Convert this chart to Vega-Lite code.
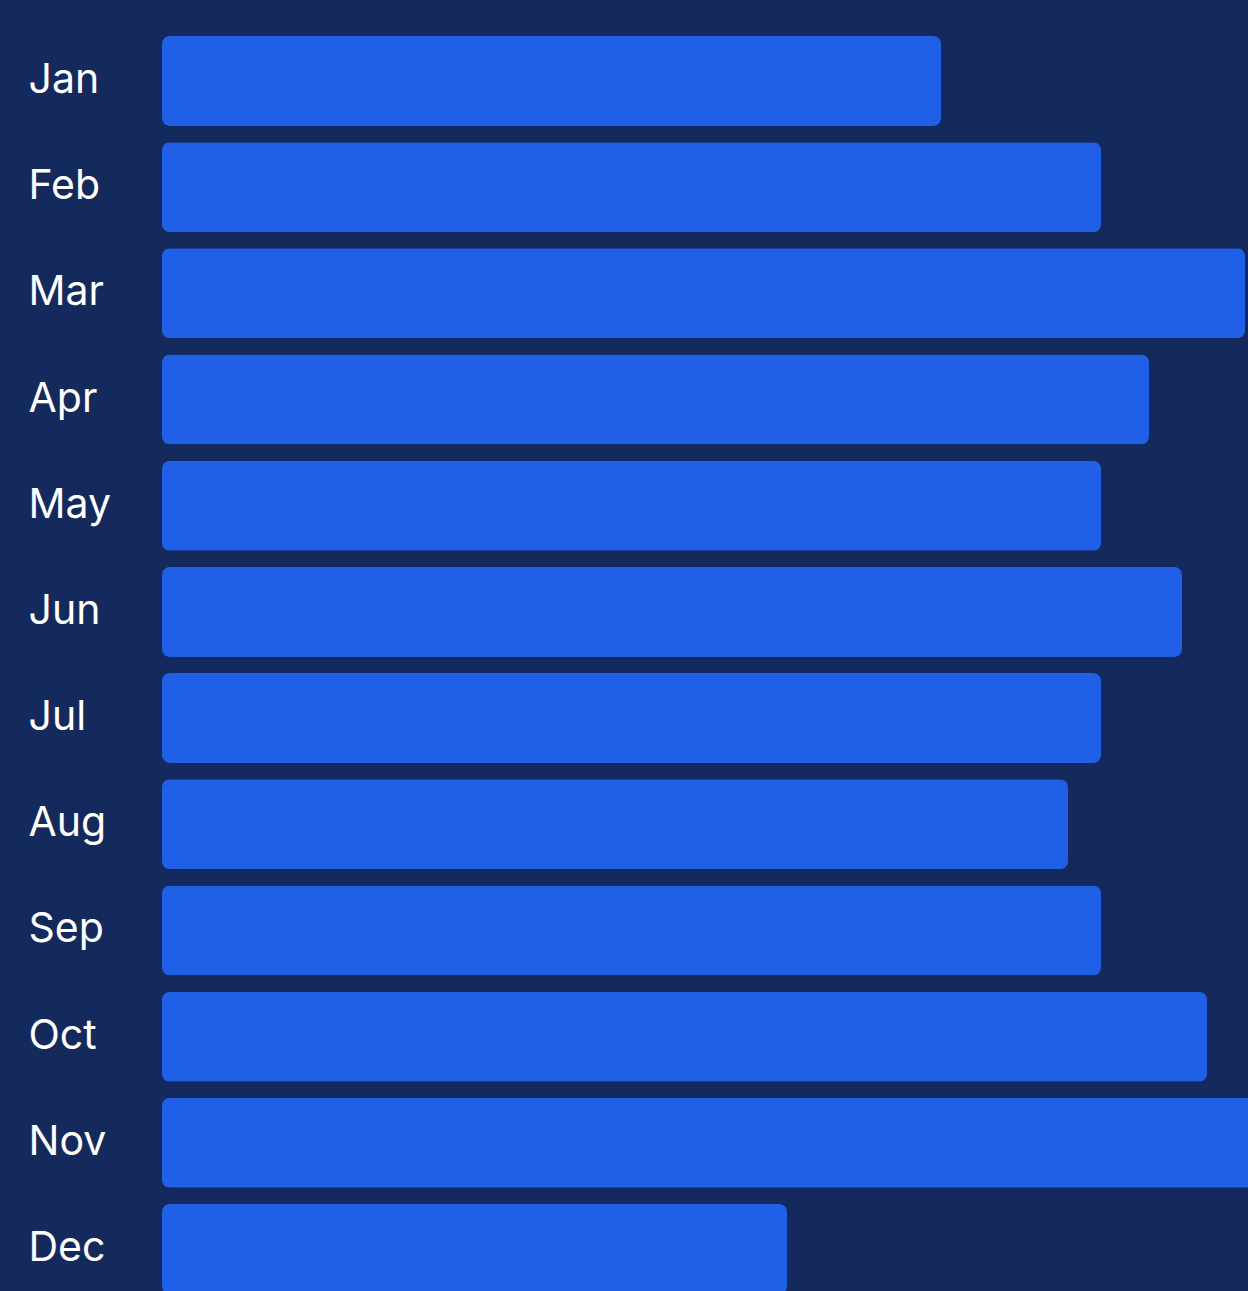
{
  "$schema": "https://vega.github.io/schema/vega-lite/v6.json",
  "autosize": "none",
  "width": 1086,
  "height": 1258,
  "padding": {"left": 162, "top": 36, "right": 0, "bottom": 0},
  "background": "#152a5c",
  "config": {"view": {"stroke": null}},
  "data": {"values": [
    {"month": "Jan", "value": 779},
    {"month": "Feb", "value": 939},
    {"month": "Mar", "value": 1083},
    {"month": "Apr", "value": 987},
    {"month": "May", "value": 939},
    {"month": "Jun", "value": 1020},
    {"month": "Jul", "value": 939},
    {"month": "Aug", "value": 906},
    {"month": "Sep", "value": 939},
    {"month": "Oct", "value": 1045},
    {"month": "Nov", "value": 1130},
    {"month": "Dec", "value": 625}
  ]},
  "mark": {"type": "bar", "color": "#2060e8", "cornerRadius": 8},
  "encoding": {
    "y": {
      "field": "month", "type": "nominal", "sort": null,
      "scale": {"paddingInner": 0.153, "paddingOuter": 0},
      "axis": {
        "title": null, "domain": false, "ticks": false, "tickSize": 0,
        "labelAlign": "left", "labelPadding": 134,
        "labelFont": "Inter", "labelFontSize": 41, "labelColor": "#ffffff",
        "labelFontWeight": 400
      }
    },
    "x": {
      "field": "value", "type": "quantitative",
      "scale": {"domain": [0, 1086], "nice": false, "zero": true},
      "axis": null
    }
  }
}
